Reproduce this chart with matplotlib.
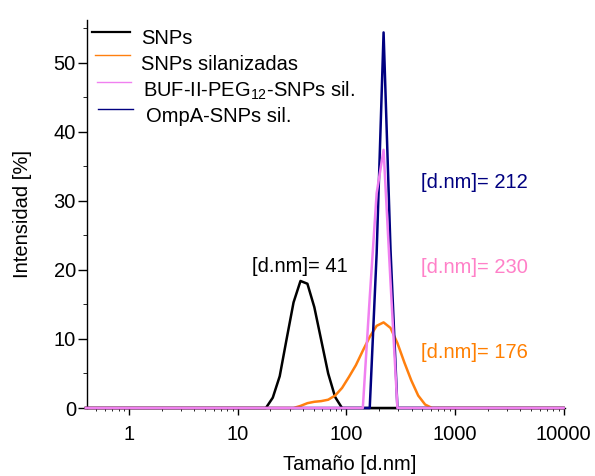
import matplotlib
matplotlib.use("Agg")
import matplotlib.pyplot as plt
from matplotlib.lines import Line2D

plt.rcParams["font.family"] = ["Liberation Sans", "DejaVu Sans"]
plt.rcParams["mathtext.fontset"] = "custom"
plt.rcParams["mathtext.rm"] = "Liberation Sans"
plt.rcParams["mathtext.it"] = "Liberation Sans:italic"

# DLS size bins [d.nm] and intensity [%]
snps_size = [0.4, 18.17, 21.04, 24.36, 28.21, 32.67, 37.84, 43.82, 50.75,
             58.77, 68.06, 78.82, 91.28, 10000]
snps_int = [0, 0, 1.5, 4.6, 10.0, 15.3, 18.4, 18.0, 14.6, 9.8, 5.0, 1.6, 0, 0]

sil_size = [0.4, 32.67, 37.84, 43.82, 50.75, 58.77, 68.06, 78.82, 91.28,
            105.7, 122.4, 141.8, 164.2, 190.1, 220.2, 255.0, 295.3, 342.0,
            396.1, 458.7, 531.2, 615.1, 10000]
sil_int = [0, 0, 0.3, 0.7, 0.9, 1.0, 1.2, 1.8, 2.9, 4.5, 6.2, 8.3, 10.3,
           11.9, 12.4, 11.6, 9.4, 6.6, 4.0, 1.8, 0.5, 0, 0]

ompa_size = [0.4, 164.2, 190.1, 220.2, 255.0, 295.3, 10000]
ompa_int = [0, 0, 22.4, 54.4, 23.0, 0, 0]

buf_size = [0.4, 141.8, 164.2, 190.1, 220.2, 255.0, 295.3, 10000]
buf_int = [0, 0, 16.0, 31.1, 37.4, 18.3, 0, 0]

labels = ["SNPs", "SNPs silanizadas", "BUF-II-PEG$_{12}$-SNPs sil.",
          "OmpA-SNPs sil."]
colors = ["#000000", "#ff7f0e", "#f080f0", "#000080"]
peak_texts = ["[d.nm]= 41", "[d.nm]= 176", "[d.nm]= 230", "[d.nm]= 212"]
peak_text_colors = ["#000000", "#ff7f00", "#ff80c8", "#000080"]
xticks = [1, 10, 100, 1000, 10000]
yticks = [0, 10, 20, 30, 40, 50]

W, H = 595, 476
fig = plt.figure(figsize=(W / 100, H / 100), dpi=100)
ax = fig.add_axes([87 / W, 1 - 408 / H, 478 / W, 388 / H])

lw = 1.8
ax.plot(snps_size, snps_int, color=colors[0], lw=lw, clip_on=False, zorder=3)
ax.plot(sil_size, sil_int, color=colors[1], lw=lw, clip_on=False, zorder=4)
ax.plot(ompa_size, ompa_int, color=colors[3], lw=lw, clip_on=False, zorder=5)
ax.plot(buf_size, buf_int, color=colors[2], lw=lw, clip_on=False, zorder=6)

ax.set_xscale("log")
ax.set_xlim(0.41, 10300)
ax.set_ylim(0, 56.2)
ax.set_xticks(xticks, [str(t) for t in xticks])
ax.set_yticks(yticks)
ax.set_yticks(range(5, 60, 10), minor=True)
ax.tick_params(axis="both", labelsize=14.5, color="black", width=1)
ax.tick_params(axis="y", which="major", length=6.5, pad=1.5)
ax.tick_params(axis="y", which="minor", length=3)
ax.tick_params(axis="x", which="major", length=5, pad=7)
ax.tick_params(axis="x", which="minor", length=2.5)
for side in ("top", "right"):
    ax.spines[side].set_visible(False)
for side in ("left", "bottom"):
    ax.spines[side].set_linewidth(1)

ax.set_xlabel("Tamaño [d.nm]", fontsize=14.5)
ax.xaxis.set_label_coords(0.55, -0.12)
ax.set_ylabel("Intensidad [%]", fontsize=14.5)
ax.yaxis.set_label_coords(-0.115, 0.5)

ax.text(37.4, 20.5, peak_texts[0], color=peak_text_colors[0], fontsize=14.5,
        ha="center", va="center")
ax.text(490, 8.0, peak_texts[1], color=peak_text_colors[1], fontsize=14.5,
        ha="left", va="center")
ax.text(490, 20.3, peak_texts[2], color=peak_text_colors[2], fontsize=14.5,
        ha="left", va="center")
ax.text(490, 32.6, peak_texts[3], color=peak_text_colors[3], fontsize=14.5,
        ha="left", va="center")

# hand-placed legend, staggered like the original (pixel positions)
legend_rows = [
    (92, 130, 32, 141, 37, 1.6),
    (95, 130, 55, 141, 62, 1.0),
    (97, 131, 82, 143, 88, 1.0),
    (98, 133, 109, 146, 115, 1.0),
]
for (x0, x1, yl, xt, yt, w), label, color in zip(legend_rows, labels, colors):
    fig.add_artist(Line2D([x0 / W, x1 / W], [1 - yl / H, 1 - yl / H],
                          color=color, lw=w, transform=fig.transFigure))
    fig.text(xt / W, 1 - yt / H, label, fontsize=14.5, ha="left",
             va="center_baseline")

fig.savefig("out.png", dpi=100)
